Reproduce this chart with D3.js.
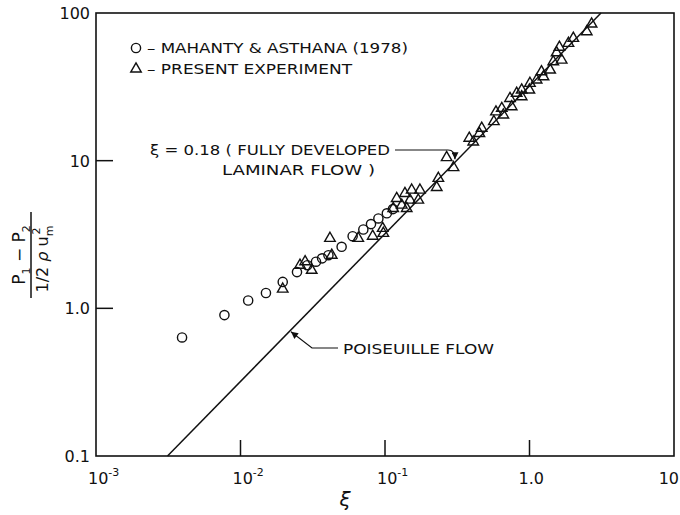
<!DOCTYPE html>
<html>
<head>
<meta charset="utf-8">
<script src="https://cdn.jsdelivr.net/npm/d3@7"></script>
<style>
  body { margin: 0; background: #fff; }
  svg { display: block; }
  text { font-family: "DejaVu Sans", "Liberation Sans", sans-serif; fill: #111; }
</style>
</head>
<body>
<div id="chart"></div>
<script>
// Mahanty & Asthana (1978) - circles
const mahantyXi = [0.00394, 0.00774, 0.0113, 0.0150, 0.0196, 0.0246, 0.0290, 0.0333, 0.0367, 0.0406,
  0.0501, 0.0597, 0.0708, 0.080, 0.090, 0.103, 0.1135];
const mahantyP = [0.635, 0.90, 1.13, 1.27, 1.51, 1.76, 1.96, 2.07, 2.18, 2.29,
  2.61, 3.08, 3.42, 3.72, 4.06, 4.40, 4.70];

// present experiment - triangles
const presentXi = [0.0196, 0.0258, 0.0280, 0.0311, 0.0428, 0.0416, 0.0653, 0.0822, 0.0964, 0.0974,
  0.114, 0.1205, 0.1374, 0.1413, 0.149, 0.153, 0.170, 0.1745, 0.1306,
  0.228, 0.234, 0.267, 0.298, 0.383, 0.408, 0.450, 0.467, 0.567, 0.586, 0.643, 0.659,
  0.733, 0.753, 0.815, 0.883, 0.883, 0.998, 1.007, 1.12, 1.25, 1.21, 1.39, 1.46, 1.67,
  1.54, 1.61, 1.86, 2.01, 2.49, 2.69];
const presentP = [1.35, 1.96, 2.07, 1.81, 2.29, 2.98, 2.98, 3.08, 3.48, 3.22,
  4.75, 5.55, 6.00, 4.75, 5.41, 6.32, 5.41, 6.32, 5.0,
  6.59, 7.59, 10.5, 8.98, 14.2, 13.4, 15.3, 16.6, 18.4, 21.4, 22.6, 20.4,
  26.4, 23.2, 28.6, 27.1, 30.1, 30.1, 33.4, 35.2, 37.0, 40.0, 41.1, 46.8, 48.0,
  53.8, 58.6, 62.3, 67.4, 74.7, 84.2];

// Poiseuille flow line end points
const poiseuilleXi = [0.003125, 3.125];
const poiseuilleP = [0.1, 100];

// ticks
const xTicks = [1e-3, 1e-2, 1e-1, 1, 10];
const xTickBase = ['10', '10', '10', '1.0', '10'];
const xTickExp = ['-3', '-2', '-1', '', ''];
const yTicks = [0.1, 1, 10, 100];
const yTickLabels = ['0.1', '1.0', '10', '100'];

const W = 680, H = 515;
const margin = {top: 13, right: 6, bottom: 59, left: 96};
const chtW = W - margin.left - margin.right;
const chtH = H - margin.top - margin.bottom;

const svg = d3.select('#chart').append('svg')
  .attr('width', W)
  .attr('height', H);

const g = svg.append('g')
  .attr('transform', 'translate(' + margin.left + ',' + margin.top + ')');

const x = d3.scaleLog().domain([1e-3, 10]).range([0, chtW]);
const y = d3.scaleLog().domain([0.1, 100]).range([chtH, 0]);

const ink = '#111';

// frame
g.append('rect')
  .attr('width', chtW)
  .attr('height', chtH)
  .attr('fill', 'none')
  .attr('stroke', ink)
  .attr('stroke-width', 1.6);

// inner ticks
g.selectAll('.xtick')
  .data(xTicks.slice(1, -1))
  .enter().append('line')
  .attr('x1', d => x(d)).attr('x2', d => x(d))
  .attr('y1', chtH).attr('y2', chtH - 16)
  .attr('stroke', ink).attr('stroke-width', 1.5);

g.selectAll('.ytick')
  .data(yTicks.slice(1, -1))
  .enter().append('line')
  .attr('x1', 0).attr('x2', 17)
  .attr('y1', d => y(d)).attr('y2', d => y(d))
  .attr('stroke', ink).attr('stroke-width', 1.5);

// tick labels (last one kept inside the window)
const xl = g.selectAll('.xlab')
  .data(xTicks)
  .enter().append('text')
  .attr('x', (d, i) => i === xTicks.length - 1 ? x(d) + 5 : x(d) - (xTickExp[i] ? 8 : 11))
  .attr('y', chtH + 28)
  .attr('text-anchor', (d, i) => i === xTicks.length - 1 ? 'end' : 'start')
  .style('font-size', '16px');
xl.append('tspan').text((d, i) => xTickBase[i]);
xl.append('tspan')
  .attr('dy', -8)
  .style('font-size', '11px')
  .text((d, i) => xTickExp[i]);

g.selectAll('.ylab')
  .data(yTicks)
  .enter().append('text')
  .attr('x', -6)
  .attr('y', d => y(d) + 6)
  .attr('text-anchor', 'end')
  .style('font-size', '16px')
  .text((d, i) => yTickLabels[i]);

// axis titles
svg.append('text')
  .attr('x', 345).attr('y', 506)
  .attr('text-anchor', 'middle')
  .style('font-size', '20px')
  .style('font-style', 'italic')
  .text('ξ');

const yt = svg.append('g')
  .attr('transform', 'translate(31,255) rotate(-90)');
yt.append('line')
  .attr('x1', -43).attr('x2', 43)
  .attr('y1', 0).attr('y2', 0)
  .attr('stroke', ink).attr('stroke-width', 1.5);
const num = yt.append('text')
  .attr('x', 0).attr('y', -6)
  .attr('text-anchor', 'middle')
  .style('font-size', '17px');
num.append('tspan').text('P');
num.append('tspan').attr('dy', 5).style('font-size', '11px').text('1');
num.append('tspan').attr('dy', -5).text(' − P');
num.append('tspan').attr('dy', 5).style('font-size', '11px').text('2');
const den = yt.append('text')
  .attr('x', -4).attr('y', 17)
  .attr('text-anchor', 'middle')
  .style('font-size', '16px');
den.append('tspan').text('1/2 ');
den.append('tspan').style('font-style', 'italic').text('ρ');
den.append('tspan').text(' u');
den.append('tspan').attr('dy', 5).style('font-size', '11px').text('m');
den.append('tspan').attr('dx', -9).attr('dy', -13).style('font-size', '11px').text('2');

// Poiseuille line
const line = d3.line()
  .x(d => x(d[0]))
  .y(d => y(d[1]));

g.append('path')
  .datum(poiseuilleXi.map((d, i) => [d, poiseuilleP[i]]))
  .attr('fill', 'none')
  .attr('stroke', ink)
  .attr('stroke-width', 1.5)
  .attr('d', line);

// data markers
const plot = g.append('g');

plot.selectAll('.circ')
  .data(mahantyXi)
  .enter().append('circle')
  .attr('cx', d => x(d))
  .attr('cy', (d, i) => y(mahantyP[i]))
  .attr('r', 4.6)
  .attr('fill', 'none')
  .attr('stroke', ink)
  .attr('stroke-width', 1.4);

const tri = d3.symbol().type(d3.symbolTriangle).size(48);
plot.selectAll('.tri')
  .data(presentXi)
  .enter().append('path')
  .attr('d', tri)
  .attr('transform', (d, i) => 'translate(' + x(d) + ',' + y(presentP[i]) + ')')
  .attr('fill', 'none')
  .attr('stroke', ink)
  .attr('stroke-width', 1.4);

// legend
const lg = svg.append('g');
lg.append('circle')
  .attr('cx', 136).attr('cy', 48).attr('r', 4.6)
  .attr('fill', 'none').attr('stroke', ink).attr('stroke-width', 1.4);
lg.append('path')
  .attr('d', tri)
  .attr('transform', 'translate(136,69)')
  .attr('fill', 'none').attr('stroke', ink).attr('stroke-width', 1.4);
lg.append('text')
  .attr('x', 147).attr('y', 53)
  .attr('textLength', 261).attr('lengthAdjust', 'spacingAndGlyphs')
  .style('font-size', '14px')
  .text('– MAHANTY & ASTHANA  (1978)');
lg.append('text')
  .attr('x', 147).attr('y', 74)
  .attr('textLength', 205).attr('lengthAdjust', 'spacingAndGlyphs')
  .style('font-size', '14px')
  .text('– PRESENT EXPERIMENT');

// annotations
const defs = svg.append('defs');
defs.append('marker')
  .attr('id', 'arr')
  .attr('viewBox', '0 0 10 10')
  .attr('refX', 10).attr('refY', 5)
  .attr('markerWidth', 9).attr('markerHeight', 7)
  .attr('markerUnits', 'userSpaceOnUse')
  .attr('orient', 'auto')
  .append('path')
  .attr('d', 'M0,0 L10,5 L0,10 Z')
  .attr('fill', ink);

svg.append('text')
  .attr('x', 150).attr('y', 155)
  .attr('textLength', 240).attr('lengthAdjust', 'spacingAndGlyphs')
  .style('font-size', '14px')
  .text('ξ = 0.18   ( FULLY DEVELOPED');
svg.append('text')
  .attr('x', 222).attr('y', 175)
  .attr('textLength', 153).attr('lengthAdjust', 'spacingAndGlyphs')
  .style('font-size', '14px')
  .text('LAMINAR FLOW )');

const devX = margin.left + x(0.31), devY = margin.top + y(0.31 * 32);
svg.append('path')
  .attr('d', 'M395,150 L448,150 Q455,150 ' + (devX - 1) + ',' + (devY - 2))
  .attr('fill', 'none').attr('stroke', ink).attr('stroke-width', 1.2)
  .attr('marker-end', 'url(#arr)');

svg.append('text')
  .attr('x', 343).attr('y', 354)
  .attr('textLength', 151).attr('lengthAdjust', 'spacingAndGlyphs')
  .style('font-size', '14px')
  .text('POISEUILLE FLOW');

const poX = margin.left + x(0.022), poY = margin.top + y(0.022 * 32);
svg.append('path')
  .attr('d', 'M338,348 L312,348 L' + (poX + 1) + ',' + (poY + 1))
  .attr('fill', 'none').attr('stroke', ink).attr('stroke-width', 1.2)
  .attr('marker-end', 'url(#arr)');
</script>
</body>
</html>
